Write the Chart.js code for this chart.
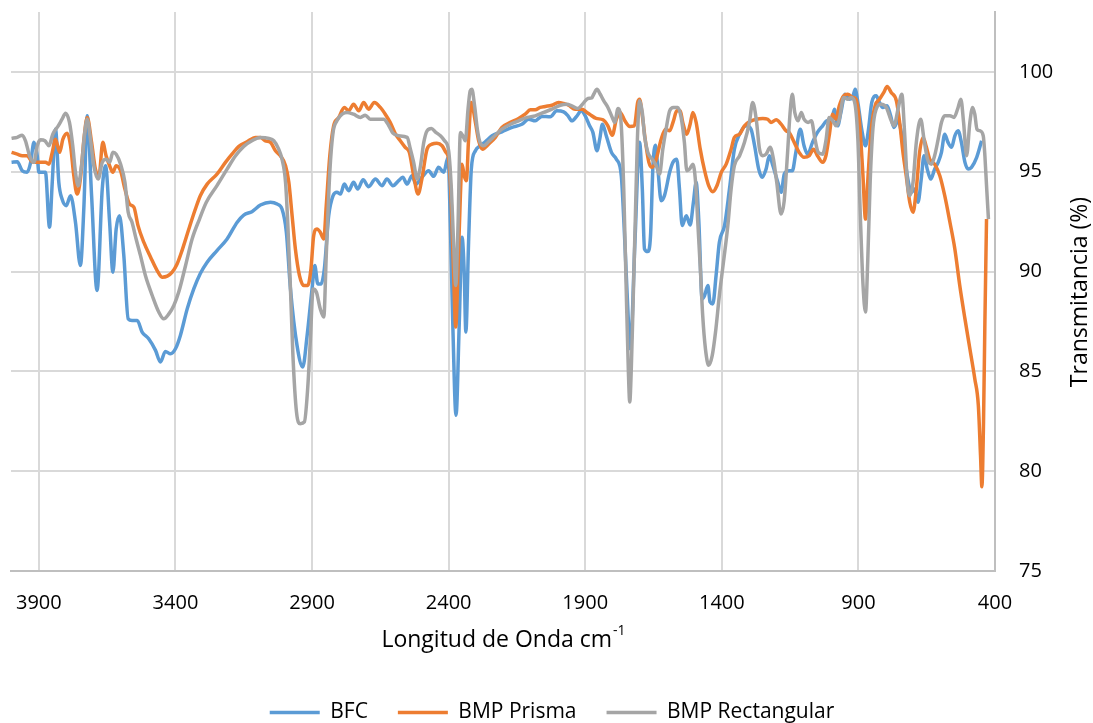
<!DOCTYPE html>
<html>
<head>
<meta charset="utf-8">
<title>Espectro FTIR</title>
<script src="https://cdn.jsdelivr.net/npm/chart.js@4.4.1/dist/chart.umd.min.js"></script>
<style>
  html, body { margin: 0; padding: 0; background: #ffffff; }
</style>
</head>
<body>
<canvas id="ftirChart" width="1093" height="723"></canvas>
<script>
// Series (wavenumber cm-1, transmittance %)
const bfcWave = [4000, 3979, 3961, 3943, 3930, 3918, 3906, 3900, 3888, 3876, 3861, 3851, 3839, 3827, 3815, 3800, 3784, 3766, 3748, 3735, 3723, 3707, 3687, 3668, 3656, 3641, 3629, 3617, 3605, 3589, 3573, 3559, 3540, 3522, 3498, 3473, 3455, 3437, 3418, 3400, 3382, 3357, 3333, 3309, 3284, 3248, 3211, 3174, 3150, 3120, 3089, 3052, 3028, 3010, 2994, 2979, 2955, 2934, 2918, 2900, 2890, 2879, 2867, 2855, 2839, 2823, 2809, 2796, 2782, 2766, 2748, 2733, 2713, 2693, 2668, 2644, 2626, 2604, 2583, 2568, 2552, 2534, 2520, 2498, 2473, 2455, 2437, 2418, 2402, 2394, 2385, 2373, 2361, 2351, 2343, 2337, 2327, 2317, 2302, 2284, 2266, 2241, 2205, 2168, 2132, 2107, 2083, 2059, 2028, 2004, 1979, 1963, 1949, 1930, 1915, 1900, 1884, 1872, 1857, 1847, 1837, 1823, 1804, 1786, 1768, 1755, 1743, 1735, 1718, 1701, 1691, 1683, 1671, 1661, 1652, 1643, 1634, 1622, 1610, 1591, 1579, 1565, 1555, 1545, 1530, 1516, 1504, 1494, 1484, 1472, 1463, 1451, 1443, 1433, 1421, 1409, 1390, 1372, 1354, 1335, 1311, 1293, 1280, 1265, 1252, 1238, 1226, 1213, 1195, 1183, 1171, 1154, 1142, 1129, 1113, 1099, 1086, 1068, 1050, 1031, 1015, 1000, 988, 976, 964, 949, 933, 921, 912, 902, 888, 874, 863, 851, 835, 823, 811, 795, 782, 770, 755, 743, 731, 719, 706, 694, 682, 670, 660, 648, 635, 621, 608, 596, 584, 572, 559, 547, 535, 523, 510, 498, 486, 467, 449];
const bfcTrans = [95.47, 95.5, 95.05, 94.97, 95.47, 96.47, 95.8, 94.97, 94.97, 94.97, 92.22, 94.47, 97.13, 94.47, 93.63, 93.3, 93.8, 92.47, 90.3, 93.3, 97.8, 93.8, 89.05, 94.13, 95.3, 92.47, 89.97, 92.13, 92.8, 90.8, 87.63, 87.55, 87.55, 86.97, 86.63, 86.05, 85.47, 86.0, 85.88, 86.13, 86.8, 88.13, 89.13, 89.9, 90.47, 91.05, 91.63, 92.47, 92.83, 93.0, 93.33, 93.47, 93.38, 93.13, 91.97, 89.13, 86.3, 85.22, 86.8, 89.13, 90.3, 89.38, 89.38, 90.13, 92.8, 93.8, 93.97, 93.88, 94.38, 94.05, 94.47, 94.13, 94.6, 94.25, 94.63, 94.3, 94.63, 94.3, 94.55, 94.72, 94.38, 94.8, 94.38, 94.72, 95.05, 94.77, 95.22, 94.97, 95.72, 92.47, 87.47, 82.8, 87.47, 91.72, 89.97, 86.97, 91.47, 95.13, 96.05, 96.3, 96.5, 96.8, 97.0, 97.22, 97.38, 97.63, 97.55, 97.77, 97.75, 98.05, 98.0, 97.8, 97.55, 97.8, 98.05, 97.8, 97.3, 96.97, 96.05, 96.63, 97.38, 96.8, 95.97, 95.63, 94.8, 91.47, 87.8, 86.13, 91.5, 96.47, 94.13, 91.13, 91.0, 91.8, 95.3, 96.33, 95.13, 93.55, 93.8, 94.97, 95.47, 95.63, 94.13, 92.3, 92.8, 92.33, 93.47, 94.47, 92.47, 88.63, 88.8, 89.3, 88.47, 88.38, 89.8, 91.47, 92.3, 94.13, 96.13, 96.88, 97.3, 97.13, 96.3, 95.13, 94.72, 95.13, 95.8, 95.3, 94.47, 93.97, 94.9, 95.05, 95.05, 95.97, 97.13, 96.3, 95.88, 96.47, 96.97, 97.3, 97.55, 97.47, 98.13, 97.3, 97.97, 98.88, 98.63, 98.72, 99.13, 98.47, 97.13, 96.3, 97.13, 98.47, 98.8, 98.47, 98.22, 98.3, 97.8, 97.22, 97.55, 96.97, 95.8, 94.63, 93.97, 94.13, 93.47, 94.63, 95.8, 95.13, 94.63, 95.13, 95.47, 95.97, 96.88, 96.47, 96.22, 96.8, 97.05, 96.47, 95.47, 95.13, 95.22, 95.72, 96.55];

const prismaWave = [4000, 3979, 3961, 3943, 3924, 3900, 3876, 3863, 3851, 3839, 3824, 3812, 3796, 3784, 3772, 3760, 3748, 3735, 3723, 3707, 3693, 3680, 3666, 3654, 3641, 3629, 3617, 3601, 3585, 3568, 3552, 3537, 3516, 3491, 3467, 3449, 3430, 3412, 3394, 3376, 3351, 3327, 3309, 3284, 3248, 3217, 3193, 3168, 3138, 3107, 3089, 3071, 3052, 3034, 3016, 2997, 2985, 2973, 2961, 2946, 2930, 2916, 2904, 2894, 2882, 2870, 2857, 2848, 2835, 2821, 2802, 2782, 2766, 2748, 2729, 2711, 2693, 2672, 2650, 2632, 2614, 2595, 2577, 2559, 2544, 2528, 2512, 2498, 2479, 2461, 2443, 2424, 2410, 2400, 2390, 2382, 2374, 2366, 2357, 2351, 2343, 2335, 2327, 2317, 2302, 2290, 2276, 2254, 2229, 2205, 2174, 2144, 2120, 2101, 2083, 2065, 2046, 2022, 1998, 1979, 1961, 1937, 1912, 1894, 1884, 1860, 1835, 1817, 1801, 1786, 1772, 1755, 1737, 1720, 1708, 1701, 1691, 1679, 1667, 1655, 1640, 1622, 1606, 1591, 1577, 1565, 1552, 1543, 1528, 1516, 1506, 1494, 1479, 1463, 1448, 1433, 1418, 1402, 1384, 1366, 1354, 1335, 1317, 1299, 1274, 1250, 1232, 1220, 1201, 1183, 1165, 1154, 1135, 1117, 1099, 1080, 1064, 1050, 1031, 1019, 1007, 994, 982, 970, 954, 939, 921, 909, 896, 884, 874, 866, 853, 839, 823, 807, 795, 780, 761, 749, 737, 725, 712, 700, 688, 676, 663, 651, 639, 621, 602, 584, 565, 547, 529, 510, 492, 474, 461, 453, 448, 442, 437, 431];
const prismaTrans = [95.97, 95.88, 95.8, 95.8, 95.5, 95.47, 95.47, 95.38, 95.97, 96.63, 95.97, 96.63, 96.93, 96.3, 94.8, 93.88, 94.63, 96.63, 97.72, 96.47, 95.13, 94.8, 96.47, 95.8, 95.3, 94.97, 95.3, 95.05, 94.13, 93.38, 93.22, 92.3, 91.47, 90.72, 90.05, 89.72, 89.77, 89.97, 90.38, 91.05, 92.13, 93.13, 93.8, 94.38, 94.88, 95.47, 95.88, 96.27, 96.5, 96.72, 96.72, 96.55, 96.47, 96.05, 95.8, 95.3, 94.47, 92.8, 91.13, 89.8, 89.3, 89.3, 90.13, 91.8, 92.13, 91.97, 91.63, 93.3, 95.8, 97.3, 97.72, 98.22, 98.05, 98.38, 98.05, 98.47, 98.13, 98.47, 98.22, 97.88, 97.47, 96.9, 96.55, 96.22, 95.97, 94.8, 93.88, 94.63, 96.13, 96.38, 96.43, 96.3, 95.97, 95.63, 93.3, 89.97, 87.22, 89.97, 93.8, 95.38, 94.8, 94.55, 96.63, 98.47, 97.47, 96.55, 96.13, 96.38, 96.72, 97.22, 97.47, 97.67, 97.88, 98.1, 98.1, 98.22, 98.27, 98.33, 98.47, 98.42, 98.33, 98.13, 98.13, 97.97, 97.88, 97.67, 97.6, 97.3, 96.83, 97.63, 97.97, 97.55, 97.27, 97.3, 98.47, 98.63, 97.8, 96.47, 95.47, 95.22, 95.63, 96.63, 97.13, 97.05, 97.55, 98.05, 98.05, 97.47, 96.88, 97.38, 97.97, 97.47, 96.13, 95.05, 94.3, 94.0, 94.3, 94.97, 95.38, 96.13, 96.72, 96.88, 97.3, 97.5, 97.63, 97.67, 97.63, 97.47, 97.6, 97.38, 97.05, 96.97, 96.47, 95.97, 95.72, 95.8, 96.13, 95.8, 95.47, 95.8, 96.8, 97.88, 97.63, 98.3, 98.8, 98.88, 98.72, 98.63, 97.47, 94.97, 92.63, 94.47, 97.13, 98.3, 98.63, 98.97, 99.27, 98.97, 98.55, 97.47, 95.97, 94.8, 93.47, 92.97, 94.13, 95.97, 96.72, 96.22, 95.63, 95.38, 94.8, 93.8, 92.47, 91.13, 89.3, 87.63, 86.13, 84.63, 83.3, 80.8, 79.22, 82.47, 87.47, 92.63];

const rectWave = [4000, 3979, 3961, 3949, 3934, 3918, 3906, 3894, 3878, 3863, 3849, 3829, 3815, 3802, 3788, 3776, 3766, 3756, 3744, 3732, 3723, 3711, 3699, 3683, 3668, 3654, 3641, 3629, 3617, 3601, 3585, 3573, 3559, 3544, 3528, 3510, 3485, 3461, 3443, 3424, 3406, 3388, 3363, 3339, 3312, 3287, 3248, 3211, 3180, 3150, 3120, 3089, 3058, 3040, 3022, 3010, 2997, 2989, 2979, 2970, 2957, 2943, 2928, 2916, 2906, 2896, 2884, 2870, 2857, 2848, 2835, 2823, 2809, 2790, 2772, 2748, 2723, 2705, 2687, 2656, 2638, 2620, 2604, 2583, 2552, 2540, 2528, 2515, 2503, 2491, 2479, 2463, 2449, 2430, 2415, 2400, 2390, 2382, 2374, 2366, 2357, 2348, 2339, 2329, 2321, 2315, 2305, 2295, 2284, 2272, 2254, 2229, 2205, 2174, 2144, 2113, 2083, 2052, 2022, 1991, 1967, 1949, 1927, 1910, 1890, 1876, 1869, 1857, 1845, 1832, 1817, 1801, 1792, 1780, 1768, 1759, 1750, 1742, 1737, 1731, 1725, 1717, 1709, 1701, 1691, 1683, 1671, 1655, 1640, 1628, 1616, 1604, 1591, 1577, 1561, 1549, 1537, 1528, 1518, 1506, 1496, 1488, 1478, 1470, 1460, 1448, 1435, 1423, 1409, 1394, 1378, 1366, 1354, 1335, 1317, 1299, 1287, 1274, 1262, 1250, 1238, 1223, 1211, 1199, 1183, 1172, 1160, 1150, 1142, 1133, 1121, 1109, 1099, 1084, 1072, 1059, 1047, 1031, 1019, 1007, 994, 982, 970, 954, 939, 927, 915, 902, 893, 883, 874, 866, 857, 847, 835, 817, 798, 782, 770, 755, 741, 731, 721, 712, 700, 688, 672, 660, 647, 633, 621, 608, 596, 584, 565, 550, 537, 525, 515, 504, 492, 482, 474, 466, 455, 443, 437, 431, 424];
const rectTrans = [96.67, 96.72, 96.83, 96.55, 95.8, 95.47, 96.3, 96.6, 96.55, 96.3, 96.88, 97.3, 97.63, 97.93, 97.47, 96.3, 94.97, 94.3, 95.3, 96.97, 97.63, 96.63, 95.3, 94.63, 95.47, 95.63, 95.47, 95.97, 95.88, 95.38, 94.47, 92.97, 92.47, 91.63, 90.8, 89.8, 88.8, 87.97, 87.63, 87.88, 88.3, 88.97, 90.3, 91.63, 92.63, 93.47, 94.3, 95.13, 95.8, 96.27, 96.55, 96.72, 96.67, 96.55, 96.13, 95.63, 94.47, 92.47, 89.13, 85.8, 82.97, 82.38, 82.47, 84.13, 86.63, 89.13, 88.97, 88.13, 87.72, 90.8, 94.97, 96.97, 97.55, 97.88, 97.97, 97.88, 97.72, 97.83, 97.63, 97.63, 97.63, 97.33, 96.93, 96.8, 96.72, 96.13, 95.47, 94.63, 95.3, 96.47, 97.05, 97.17, 97.0, 96.8, 96.55, 96.05, 94.13, 91.47, 89.3, 92.13, 96.97, 96.8, 96.55, 98.13, 99.05, 99.13, 98.3, 97.13, 96.43, 96.3, 96.5, 96.83, 97.13, 97.38, 97.55, 97.72, 97.8, 97.97, 98.13, 98.33, 98.38, 98.3, 98.17, 98.38, 98.67, 98.7, 98.88, 99.13, 98.88, 98.55, 98.22, 97.72, 97.47, 98.17, 97.3, 94.13, 89.13, 84.97, 83.47, 85.3, 88.3, 92.47, 96.63, 98.55, 97.97, 96.8, 95.97, 95.63, 95.3, 94.88, 96.13, 97.13, 98.05, 98.22, 98.22, 97.72, 96.47, 95.05, 95.13, 95.38, 94.47, 92.47, 89.97, 87.8, 86.13, 85.3, 85.8, 86.97, 88.8, 90.47, 92.3, 94.13, 95.3, 95.8, 96.47, 97.47, 98.47, 97.63, 96.13, 95.8, 95.88, 96.22, 95.63, 94.47, 92.88, 93.5, 95.8, 97.97, 98.88, 97.97, 97.55, 97.97, 97.63, 97.47, 97.55, 96.63, 95.97, 95.88, 96.55, 97.72, 97.55, 97.3, 97.63, 98.72, 98.63, 98.72, 98.55, 96.63, 92.8, 89.3, 87.97, 90.47, 94.47, 97.13, 98.13, 98.38, 98.22, 97.63, 97.3, 98.13, 98.88, 96.97, 94.47, 93.8, 94.47, 96.47, 97.63, 96.63, 95.63, 95.38, 95.8, 96.63, 97.47, 97.8, 97.8, 97.72, 98.13, 98.63, 97.47, 95.8, 97.47, 98.22, 97.88, 97.13, 97.05, 96.8, 95.8, 94.3, 92.63];

const seriesNames = ['BFC', 'BMP Prisma', 'BMP Rectangular'];
const seriesColors = ['#5B9BD5', '#ED7D31', '#A5A5A5'];
const xTicks = [3900, 3400, 2900, 2400, 1900, 1400, 900, 400];
const yTicks = [75, 80, 85, 90, 95, 100];
const xTitle = 'Longitud de Onda cm';
const xTitleSup = '-1';
const yTitle = 'Transmitancia (%)';

const FONT = "'Open Sans', sans-serif";

function toPoints(wave, trans) {
    return wave.map((w, i) => ({ x: w, y: trans[i] }));
}

// Axis titles drawn by hand: the x title has a superscript and the
// y title on the right axis reads bottom-to-top
const axisTitles = {
    id: 'axisTitles',
    afterDraw(chart) {
        const { ctx, chartArea } = chart;
        ctx.save();
        ctx.fillStyle = '#000000';
        ctx.textBaseline = 'middle';
        ctx.textAlign = 'left';

        ctx.font = '23px ' + FONT;
        const mainW = ctx.measureText(xTitle).width;
        ctx.font = '14px ' + FONT;
        const supW = ctx.measureText(xTitleSup).width;
        const startX = (chartArea.left + chartArea.right) / 2 - (mainW + supW) / 2;
        ctx.font = '23px ' + FONT;
        ctx.fillText(xTitle, startX, 640);
        ctx.font = '14px ' + FONT;
        ctx.fillText(xTitleSup, startX + mainW + 1, 631);

        ctx.translate(1080, 292);
        ctx.rotate(-Math.PI / 2);
        ctx.textAlign = 'center';
        ctx.font = '23px ' + FONT;
        ctx.fillText(yTitle, 0, 0);
        ctx.restore();
    }
};

const datasets = [
    { wave: bfcWave, trans: bfcTrans, order: 3 },
    { wave: prismaWave, trans: prismaTrans, order: 2 },
    { wave: rectWave, trans: rectTrans, order: 1 }
].map((s, i) => ({
    label: seriesNames[i],
    data: toPoints(s.wave, s.trans),
    borderColor: seriesColors[i],
    backgroundColor: seriesColors[i],
    borderWidth: 3.5,
    pointRadius: 0,
    cubicInterpolationMode: 'monotone',
    fill: false,
    order: s.order
}));

const gridStyle = { color: '#D9D9D9', lineWidth: 2, drawTicks: false };
const borderStyle = { display: true, color: '#BFBFBF', width: 2 };

// keep the plot box fixed: no extra room for half-labels at the ends
function noEdgePadding(scale) {
    scale.paddingTop = 0;
    scale.paddingBottom = 0;
    scale.paddingLeft = 0;
    scale.paddingRight = 0;
}

new Chart(document.getElementById('ftirChart'), {
    type: 'line',
    data: { datasets: datasets },
    options: {
        responsive: false,
        animation: false,
        devicePixelRatio: 1,
        layout: { padding: { left: 11, top: 12, right: 0, bottom: -10 } },
        plugins: {
            legend: {
                display: true,
                position: 'bottom',
                labels: {
                    usePointStyle: true,
                    pointStyle: 'line',
                    pointStyleWidth: 50,
                    padding: 30,
                    color: '#000000',
                    font: { family: FONT, size: 21 },
                    sort: (a, b) => a.datasetIndex - b.datasetIndex
                }
            },
            tooltip: { enabled: false }
        },
        scales: {
            x: {
                type: 'linear',
                reverse: true,
                min: 400,
                max: 4002,
                afterBuildTicks: scale => { scale.ticks = xTicks.map(v => ({ value: v })); },
                afterFit: scale => { noEdgePadding(scale); scale.height = 101; },
                grid: gridStyle,
                border: borderStyle,
                ticks: {
                    color: '#000000',
                    font: { family: FONT, size: 20 },
                    padding: 20,
                    maxRotation: 0,
                    autoSkip: false,
                    callback: v => String(v)
                }
            },
            y: {
                type: 'linear',
                position: 'right',
                min: 75,
                max: 103,
                afterBuildTicks: scale => { scale.ticks = yTicks.map(v => ({ value: v })); },
                afterFit: scale => { noEdgePadding(scale); scale.width = 98; },
                grid: gridStyle,
                border: borderStyle,
                ticks: {
                    color: '#000000',
                    font: { family: FONT, size: 20 },
                    padding: 24,
                    callback: v => String(v)
                }
            }
        }
    },
    plugins: [axisTitles]
});
</script>
</body>
</html>
